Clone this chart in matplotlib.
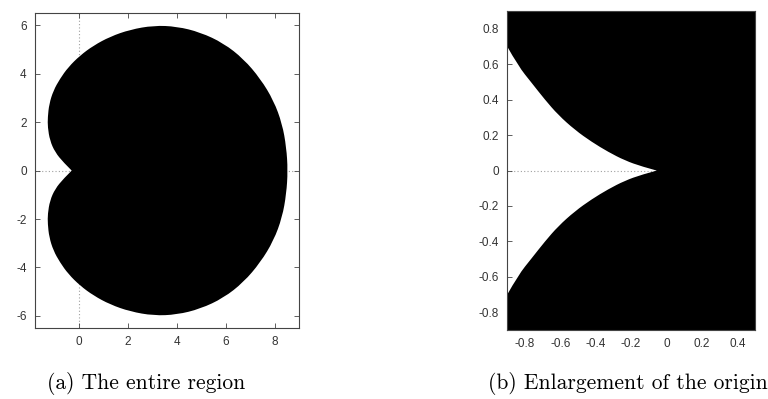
import matplotlib
matplotlib.use("Agg")
import matplotlib.pyplot as plt
from matplotlib.path import Path
from matplotlib.patches import PathPatch

# upper half of the region boundary (lower half is its mirror image)
edge_x = [-0.30, -0.64, -0.98, -1.19, -1.28, -1.28, -1.22, -1.05, -0.78, -0.44,
          0.04, 0.59, 1.27, 2.09, 3.05, 4.00, 4.96, 5.91, 6.73, 7.42,
          7.96, 8.31, 8.48, 8.54]
edge_y = [0.00, 0.34, 0.76, 1.24, 1.79, 2.20, 2.75, 3.30, 3.79, 4.27,
          4.75, 5.16, 5.53, 5.82, 5.99, 5.95, 5.71, 5.26, 4.61, 3.79,
          2.89, 1.93, 0.96, 0.00]

# edge of the empty wedge near the origin (upper side)
gap_x = [-0.90, -0.838, -0.762, -0.687, -0.612, -0.517, -0.423,
         -0.329, -0.235, -0.140, -0.055]
gap_y = [0.700, 0.590, 0.495, 0.400, 0.314, 0.229, 0.162,
         0.105, 0.057, 0.023, 0.000]

tick_color = "#333333"
grid_color = "#a0a0a0"


def smooth_codes(pts):
    # quadratic curve through midpoints, keeping the two end points fixed
    verts = [pts[0]]
    codes = [Path.MOVETO]
    for i in range(1, len(pts) - 1):
        mid = ((pts[i][0] + pts[i + 1][0]) / 2, (pts[i][1] + pts[i + 1][1]) / 2)
        if i == len(pts) - 2:
            mid = pts[i + 1]
        verts += [pts[i], mid]
        codes += [Path.CURVE3, Path.CURVE3]
    return verts, codes


def style_axes(ax):
    ax.tick_params(direction="in", length=3.5, width=0.6, top=True, right=True,
                   labelsize=8.5, labelcolor=tick_color, color="#444444", pad=6)
    for lbl in ax.get_xticklabels() + ax.get_yticklabels():
        lbl.set_family("Liberation Sans")
    for s in ax.spines.values():
        s.set_linewidth(0.8)
        s.set_color("#444444")


fig = plt.figure(figsize=(7.68, 3.99), dpi=100)
ax1 = fig.add_axes([0.0456, 0.178, 0.3438, 0.789])
ax2 = fig.add_axes([0.6605, 0.173, 0.3225, 0.799])

# (a) whole region as one smoothed closed loop
upper = list(zip(edge_x, edge_y))
lower = [(x, -y) for x, y in upper]
loop = upper + lower[::-1][1:]
vl, cl = smooth_codes(loop)
shape = Path(vl + [vl[0]], cl + [Path.CLOSEPOLY])

ax1.axhline(0, color=grid_color, lw=0.8, ls=(0, (1, 2)), zorder=1)
ax1.axvline(0, color=grid_color, lw=0.8, ls=(0, (1, 2)), zorder=1)
ax1.add_patch(PathPatch(shape, facecolor="black", lw=0, zorder=2))
ax1.set_xlim(-1.8, 9)
ax1.set_ylim(-6.5, 6.5)
ax1.set_xticks([0, 2, 4, 6, 8])
ax1.set_yticks([-6, -4, -2, 0, 2, 4, 6])
ax1.set_yticklabels(["-6", "-4", "-2", "0", "2", "4", "6"])
style_axes(ax1)

# (b) close-up of the cusp: everything black except the wedge
x_lo, x_hi = -0.9, 0.5
y_lo, y_hi = -0.9, 0.9
gap_up = list(zip(gap_x, gap_y))
gap_dn = [(x, -y) for x, y in gap_up]
vu, cu = smooth_codes(gap_up[::-1])
vd, cd = smooth_codes(gap_dn)
frame = [(x_lo, y_hi + 0.05), (x_hi + 0.05, y_hi + 0.05),
         (x_hi + 0.05, y_lo - 0.05), (x_lo, y_lo - 0.05)]
verts = frame + vd + vu[1:] + [frame[0]]
codes = ([Path.MOVETO] + [Path.LINETO] * 3 + [Path.LINETO] + cd[1:] + cu[1:]
         + [Path.CLOSEPOLY])
ax2.axhline(0, color=grid_color, lw=0.8, ls=(0, (1, 2)), zorder=1)
ax2.add_patch(PathPatch(Path(verts, codes), facecolor="black", lw=0, zorder=2))
ax2.set_xlim(x_lo, x_hi)
ax2.set_ylim(y_lo, y_hi)
ax2.set_xticks([-0.8, -0.6, -0.4, -0.2, 0, 0.2, 0.4])
ax2.set_xticklabels(["-0.8", "-0.6", "-0.4", "-0.2", "0", "0.2", "0.4"])
ax2.set_yticks([-0.8, -0.6, -0.4, -0.2, 0, 0.2, 0.4, 0.6, 0.8])
ax2.set_yticklabels(["-0.8", "-0.6", "-0.4", "-0.2", "0", "0.2", "0.4", "0.6", "0.8"])
style_axes(ax2)

fig.text(0.19, 0.025, "(a) The entire region", family="cmr10", fontsize=15.5,
         ha="center", va="baseline")
fig.text(0.818, 0.025, "(b) Enlargement of the origin", family="cmr10", fontsize=15.5,
         ha="center", va="baseline")

fig.savefig("out.png", dpi=100)
